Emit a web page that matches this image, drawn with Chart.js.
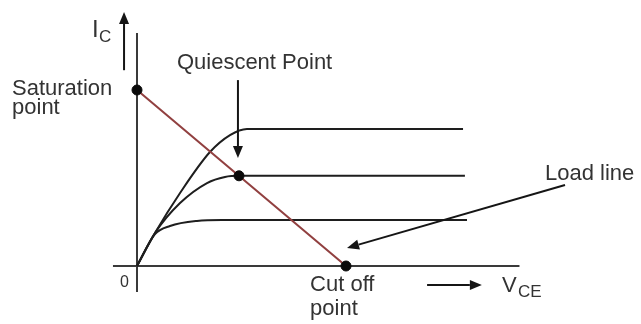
<!DOCTYPE html>
<html>
<head>
<meta charset="utf-8">
<script src="https://cdn.jsdelivr.net/npm/chart.js@4/dist/chart.umd.min.js"></script>
<style>
  html, body { margin: 0; padding: 0; background: #ffffff; }
  #wrap { width: 641px; height: 324px; }
</style>
</head>
<body>
<div id="wrap"><canvas id="c" width="641" height="324"></canvas></div>
<script>
// ---- Data (V_CE in volts, I_C in mA) ----
const topCurveV = [0, 0.86, 2.06, 3.49, 4.45, 5.26, 15.6];
const topCurveI = [0, 1.50, 3.32, 5.18, 5.95, 6.23, 6.23];

const midCurveV = [0, 0.86, 2.06, 3.35, 4.21, 4.93, 15.69];
const midCurveI = [0, 1.50, 2.86, 3.77, 4.05, 4.10, 4.10];

const lowCurveV = [0, 0.86, 1.58, 2.87, 4.07, 15.79];
const lowCurveI = [0, 1.45, 1.82, 2.05, 2.09, 2.09];

const loadLineV = [0, 10];
const loadLineI = [8, 0];

const pointNames = ["Saturation point", "Quiescent Point", "Cut off point"];
const pointV = [0, 4.88, 10];
const pointI = [8, 4.10, 0];

const toXY = (xs, ys) => xs.map((x, i) => ({ x: x, y: ys[i] }));

// ---- Annotation layout (in data units) ----
const axisExtent = { xFrom: -1.15, xTo: 18.3, yFrom: -1.18, yTo: 10.59 };
const arrows = [
  { from: [-0.62, 8.9], to: [-0.62, 11.55] },   // I_C arrow
  { from: [4.83, 8.45], to: [4.83, 4.91] },     // Quiescent arrow
  { from: [20.48, 3.68], to: [10.05, 0.82] },   // Load line arrow
  { from: [13.88, -0.86], to: [16.5, -0.86] }   // V_CE arrow
];
const labels = [
  { text: "I", x: -2.15, y: 10.41, size: 24 },
  { text: "C", x: -1.82, y: 10.18, size: 17 },
  { text: "Saturation", x: -5.98, y: 7.77, size: 22 },
  { text: "point", x: -5.98, y: 6.91, size: 22 },
  { text: "Quiescent Point", x: 1.91, y: 8.95, size: 22 },
  { text: "Load line", x: 19.52, y: 3.91, size: 22 },
  { text: "Cut off", x: 8.28, y: -1.14, size: 22 },
  { text: "point", x: 8.28, y: -2.23, size: 22 },
  { text: "V", x: 17.46, y: -1.18, size: 22 },
  { text: "CE", x: 18.23, y: -1.41, size: 17 },
  { text: "0", x: -0.81, y: -0.95, size: 16 }
];

const decor = {
  id: 'decor',
  beforeDatasetsDraw(chart) {
    const ctx = chart.ctx, sx = chart.scales.x, sy = chart.scales.y;
    ctx.save();
    ctx.strokeStyle = '#3a3a3a';
    ctx.lineWidth = 2;
    ctx.beginPath();
    ctx.moveTo(sx.getPixelForValue(axisExtent.xFrom), sy.getPixelForValue(0));
    ctx.lineTo(sx.getPixelForValue(axisExtent.xTo), sy.getPixelForValue(0));
    ctx.moveTo(sx.getPixelForValue(0), sy.getPixelForValue(axisExtent.yFrom));
    ctx.lineTo(sx.getPixelForValue(0), sy.getPixelForValue(axisExtent.yTo));
    ctx.stroke();
    ctx.restore();
  },
  afterDatasetsDraw(chart) {
    const ctx = chart.ctx, sx = chart.scales.x, sy = chart.scales.y;
    ctx.save();
    arrows.forEach(a => {
      const x1 = sx.getPixelForValue(a.from[0]), y1 = sy.getPixelForValue(a.from[1]);
      const x2 = sx.getPixelForValue(a.to[0]), y2 = sy.getPixelForValue(a.to[1]);
      const ang = Math.atan2(y2 - y1, x2 - x1);
      const hl = 12, hw = 5;
      const bx = x2 - hl * Math.cos(ang), by = y2 - hl * Math.sin(ang);
      ctx.strokeStyle = '#151515';
      ctx.fillStyle = '#151515';
      ctx.lineWidth = 2;
      ctx.beginPath();
      ctx.moveTo(x1, y1);
      ctx.lineTo(bx, by);
      ctx.stroke();
      ctx.beginPath();
      ctx.moveTo(x2, y2);
      ctx.lineTo(bx + hw * Math.sin(ang), by - hw * Math.cos(ang));
      ctx.lineTo(bx - hw * Math.sin(ang), by + hw * Math.cos(ang));
      ctx.closePath();
      ctx.fill();
    });
    ctx.fillStyle = '#333333';
    ctx.textBaseline = 'alphabetic';
    ctx.textAlign = 'left';
    labels.forEach(l => {
      ctx.font = l.size + 'px "Liberation Sans", Arial, sans-serif';
      ctx.fillText(l.text, sx.getPixelForValue(l.x), sy.getPixelForValue(l.y));
    });
    ctx.restore();
  }
};

const curveStyle = {
  showLine: true, pointRadius: 0, borderColor: '#1e1e1e', borderWidth: 2,
  cubicInterpolationMode: 'monotone', fill: false
};

new Chart(document.getElementById('c'), {
  type: 'scatter',
  data: {
    datasets: [
      { label: 'Operating points', data: toXY(pointV, pointI), pointRadius: 5,
        pointBackgroundColor: '#0a0a0a', pointBorderColor: '#0a0a0a', showLine: false },
      { label: 'Load line', data: toXY(loadLineV, loadLineI), showLine: true, pointRadius: 0,
        borderColor: '#914040', borderWidth: 2 },
      Object.assign({ label: 'IB3', data: toXY(topCurveV, topCurveI) }, curveStyle),
      Object.assign({ label: 'IB2', data: toXY(midCurveV, midCurveI) }, curveStyle),
      Object.assign({ label: 'IB1', data: toXY(lowCurveV, lowCurveI) }, curveStyle)
    ]
  },
  options: {
    responsive: false,
    animation: false,
    layout: { padding: 0, autoPadding: false },
    plugins: { legend: { display: false }, tooltip: { enabled: false } },
    scales: {
      x: { type: 'linear', min: -6.555, max: 24.115, display: false },
      y: { type: 'linear', min: -2.636, max: 12.091, display: false }
    }
  },
  plugins: [decor]
});
</script>
</body>
</html>
